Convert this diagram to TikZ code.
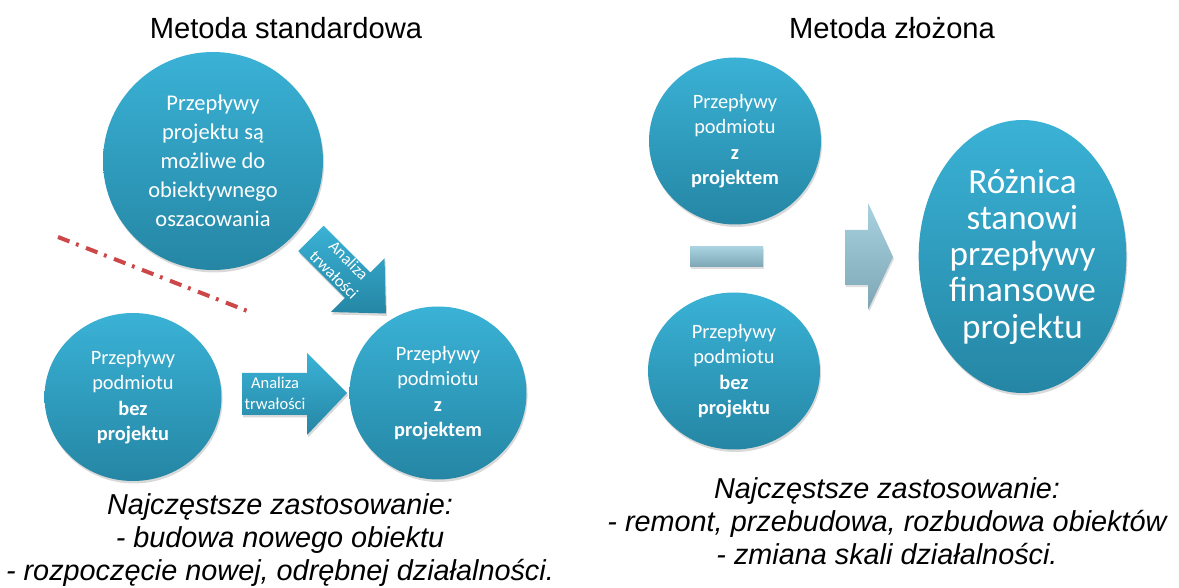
\documentclass[tikz,border=0pt]{standalone}
\usepackage{fontspec}
\setmainfont{Liberation Sans}
\newfontfamily\calibri{Carlito}
\usepackage{tikz}
\usetikzlibrary{shapes.geometric, shadows}
\definecolor{tealtop}{RGB}{58,178,214}
\definecolor{tealbot}{RGB}{37,134,164}
\definecolor{paletop}{RGB}{168,210,224}
\definecolor{palebot}{RGB}{126,166,182}
\definecolor{cutred}{RGB}{204,72,72}

\begin{document}
\begin{tikzpicture}[
    bubble/.style={ellipse, top color=tealtop, bottom color=tealbot, text=white, align=center, inner sep=0pt,
      drop shadow={opacity=0.3, shadow xshift=0.6pt, shadow yshift=-1.4pt}},
    bigarrow/.style={top color=tealtop, bottom color=tealbot,
      drop shadow={opacity=0.3, shadow xshift=0.6pt, shadow yshift=-1.4pt}},
    palebox/.style={top color=paletop, bottom color=palebot,
      drop shadow={opacity=0.25, shadow xshift=0.6pt, shadow yshift=-1.2pt}},
    arrowtext/.style={text=white, align=center, font=\calibri\fontsize{9.4}{11.8}\selectfont},
    heading/.style={font=\fontsize{16.6}{20}\selectfont},
    usage/.style={align=center, font=\itshape\fontsize{16.4}{18.8}\selectfont}]
    \useasboundingbox (0,0) rectangle (23.58,-11.76);
    % Headings
    \node[heading] (titleL) at (5.72,-0.56) {Metoda standardowa};
    \node[heading] (titleR) at (17.84,-0.56) {Metoda złożona};
    % Standard method
    \node[bubble, minimum width=4.4cm, minimum height=4.36cm, font=\calibri\fontsize{12.8}{16.5}\selectfont]
      (proj) at (4.26,-3.22) {Przepływy\\projektu są\\możliwe do\\obiektywnego\\oszacowania};
    \node[bubble, minimum width=3.54cm, minimum height=3.36cm, font=\calibri\fontsize{11.6}{14.4}\selectfont]
      (bezL) at (2.66,-7.94) {Przepływy\\podmiotu\\\textbf{bez}\\\textbf{projektu}};
    \node[bubble, minimum width=3.54cm, minimum height=3.46cm, font=\calibri\fontsize{11.6}{14.4}\selectfont]
      (zL) at (8.76,-7.86) {Przepływy\\podmiotu\\\textbf{z}\\\textbf{projektem}};
    % Diagonal arrow
    \begin{scope}[shift={(6.22,-4.77)}, rotate=-45]
      \path[bigarrow] (0,0.36) -- (1.32,0.36) -- (1.32,0.76) -- (2.12,0) -- (1.32,-0.76)
        -- (1.32,-0.36) -- (0,-0.36) -- cycle;
      \node[arrowtext, rotate=-45] (diagLbl) at (0.84,0.02) {Analiza\\trwałości};
    \end{scope}
    % Horizontal arrow
    \path[bigarrow] (4.84,-7.46) -- (6.14,-7.46) -- (6.14,-7.06) -- (6.94,-7.86) -- (6.14,-8.7)
      -- (6.14,-8.3) -- (4.84,-8.3) -- cycle;
    \node[arrowtext] (horLbl) at (5.5,-7.86) {Analiza\\trwałości};
    % Dash-dot cut
    \coordinate (cutA) at (1.16,-4.74);
    \coordinate (cutB) at (5.0,-6.24);
    \draw[cutred, line width=2.3pt, dash pattern=on 7pt off 4pt on 1.6pt off 4.5pt] (cutA) -- (cutB);
    % Composite method
    \node[bubble, minimum width=3.44cm, minimum height=3.34cm, font=\calibri\fontsize{11.6}{14.4}\selectfont]
      (zR) at (14.7,-2.82) {Przepływy\\podmiotu\\\textbf{z}\\\textbf{projektem}};
    \node[bubble, minimum width=3.44cm, minimum height=3.14cm, font=\calibri\fontsize{11.6}{14.4}\selectfont]
      (bezR) at (14.68,-7.42) {Przepływy\\podmiotu\\\textbf{bez}\\\textbf{projektu}};
    \path[palebox] (13.8,-4.94) rectangle (15.26,-5.34);
    \path[palebox] (16.9,-4.6) -- (17.36,-4.6) -- (17.36,-4.06) -- (17.86,-5.14) -- (17.36,-6.2)
      -- (17.36,-5.7) -- (16.9,-5.7) -- cycle;
    \node[bubble, minimum width=4.1cm, minimum height=5.46cm, font=\calibri\fontsize{20}{20.6}\selectfont]
      (diff) at (20.45,-5.13) {Różnica\\stanowi\\przepływy\\finansowe\\projektu};
    % Usage notes
    \node[usage] (useL) at (5.6,-10.8) {Najczęstsze zastosowanie:\\- budowa nowego obiektu\\- rozpoczęcie nowej, odrębnej działalności.};
    \node[usage] (useR) at (17.74,-10.42) {Najczęstsze zastosowanie:\\- remont, przebudowa, rozbudowa obiektów\\- zmiana skali działalności.};
\end{tikzpicture}
\end{document}
